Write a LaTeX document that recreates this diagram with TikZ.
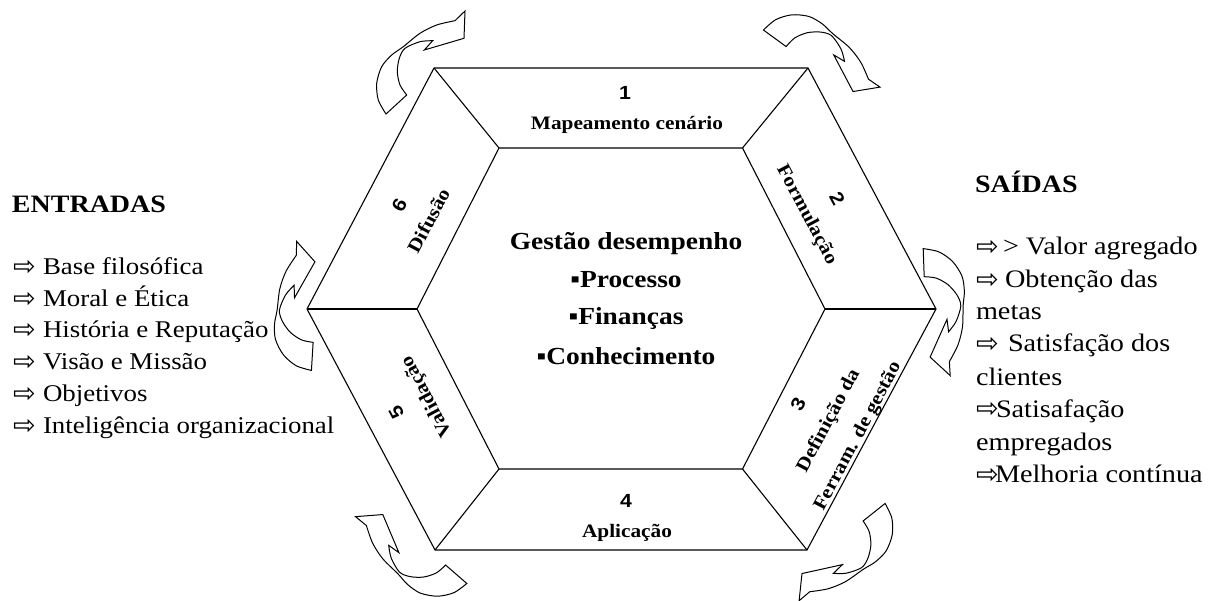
\documentclass[tikz,border=0pt]{standalone}
\usepackage{fontspec}
\setmainfont{Liberation Serif}[FakeStretch=1.12]
\newfontfamily\numfont{Liberation Sans}[FakeStretch=1.12]
\newfontfamily\symfont{DejaVu Sans}
\newcommand{\warr}[1]{\makebox[#1][l]{\raisebox{-1pt}{\symfont\fontsize{27}{27}\selectfont ⇨}}}
\newcommand{\cvarrow}[3]{%
  \draw[cvline, shift={(#1,#2)}, rotate=#3]
    (-48,46) -- plot[smooth] coordinates {(-48,46) (-55.7,32) (-57.3,15.3) (-52.3,-1.3) (-42.3,-13) (-30.7,-21.3) (-14,-34.7) (2.7,-43) (21,-47.3)}
    -- (31,-57) -- (30,-29.7) -- (-9.7,-18) -- (-1.3,-27.3)
    -- plot[smooth] coordinates {(-1.3,-27.3) (-14,-26.3) (-29,-19.7) (-34.7,-9.7) (-36.7,3.7) (-34,17) (-27.3,27)}
    -- cycle;}
\begin{document}
\begin{tikzpicture}[x=1pt,y=-1pt,
  hexline/.style={line width=1.1pt, line join=miter},
  cvline/.style={line width=1pt, line join=miter},
  txt/.style={inner sep=0pt, outer sep=0pt, anchor=base west},
  ctxt/.style={inner sep=0pt, outer sep=0pt, anchor=base},
  listfont/.style={font=\fontsize{24}{31.6}\selectfont},
  rlistfont/.style={font=\fontsize{25.2}{32.4}\selectfont},
  headfont/.style={font=\fontsize{25}{28}\selectfont\bfseries},
  cenfont/.style={font=\fontsize{24.5}{38}\selectfont\bfseries},
  labfont/.style={font=\fontsize{19}{22}\selectfont\bfseries},
  numfnt/.style={font=\fontsize{19}{22}\selectfont\numfont\bfseries},
  sidelab/.style={inner sep=0pt, align=center, font=\fontsize{19}{33}\selectfont\bfseries}
  ]
\useasboundingbox (0,0) rectangle (1215,601);
% hexagon vertices
\coordinate (v1) at (434,68);
\coordinate (v2) at (808,68);
\coordinate (v3) at (936,309);
\coordinate (v4) at (807,550);
\coordinate (v5) at (435,550);
\coordinate (v6) at (307,309);
\coordinate (i1) at (499,148);
\coordinate (i2) at (742.5,148);
\coordinate (i3) at (825,309);
\coordinate (i4) at (742.5,469);
\coordinate (i5) at (499,469);
\coordinate (i6) at (417,309);
\draw[hexline] (v1) -- (v2) -- (v3) -- (v4) -- (v5) -- (v6) -- cycle;
\draw[hexline] (i1) -- (i2) -- (i3) -- (i4) -- (i5) -- (i6) -- cycle;
\draw[hexline] (v1) -- (i1);
\draw[hexline] (v2) -- (i2);
\draw[hexline] (v3) -- (i3);
\draw[hexline] (v4) -- (i4);
\draw[hexline] (v5) -- (i5);
\draw[hexline] (v6) -- (i6);
% curved arrows
\cvarrow{434}{68}{0}
\cvarrow{818}{68}{-78.6}
\cvarrow{927}{315}{-130.5}
\cvarrow{834}{546}{-184}
\cvarrow{415.7}{541}{-263.5}
\cvarrow{314}{304}{-316}
% top and bottom sections
\node[ctxt, numfnt] (n1) at (625,100) {1};
\node[ctxt, labfont] (l1) at (627,130) {Mapeamento cenário};
\node[ctxt, numfnt] (n4) at (626,507) {4};
\node[ctxt, labfont] (l4) at (627,537) {Aplicação};
% side sections
\node[sidelab, rotate=62] (l6) at (414,213) {{\numfont 6}\\Difusão};
\node[sidelab, rotate=-62] (l2) at (821,207) {{\numfont 2}\\Formulação};
\node[sidelab, rotate=62] (l3) at (829,421) {{\numfont 3}\\Definição da\\Ferram. de gestão};
\node[sidelab, rotate=118] (l5) at (412.5,404) {{\numfont 5}\\Validação};
% centre
\node[ctxt, cenfont] (c1) at (626,250) {Gestão desempenho};
\node[ctxt, cenfont] (c2) at (626,288) {▪Processo};
\node[ctxt, cenfont] (c3) at (626,325) {▪Finanças};
\node[ctxt, cenfont] (c4) at (626,364) {▪Conhecimento};
% inputs
\node[txt, headfont] (ent) at (12,213) {ENTRADAS};
\node[txt, listfont] (e1) at (13,275) {\warr{30pt}Base filosófica};
\node[txt, listfont] (e2) at (13,306.6) {\warr{30pt}Moral e Ética};
\node[txt, listfont] (e3) at (13,338) {\warr{30pt}História e Reputação};
\node[txt, listfont] (e4) at (13,370) {\warr{30pt}Visão e Missão};
\node[txt, listfont] (e5) at (13,401.5) {\warr{30pt}Objetivos};
\node[txt, listfont] (e6) at (13,433) {\warr{30pt}Inteligência organizacional};
% outputs
\node[txt, headfont] (sai) at (975,193) {SAÍDAS};
\node[txt, rlistfont] (s1) at (976,255) {\warr{27pt}> Valor agregado};
\node[txt, rlistfont] (s2) at (976,287.5) {\warr{29pt}Obtenção das};
\node[txt, rlistfont] (s3) at (976,320) {metas};
\node[txt, rlistfont] (s4) at (976,352) {\warr{32pt}Satisfação dos};
\node[txt, rlistfont] (s5) at (976,385) {clientes};
\node[txt, rlistfont] (s6) at (976,417) {\warr{20pt}Satisafação};
\node[txt, rlistfont] (s7) at (976,450) {empregados};
\node[txt, rlistfont] (s8) at (976,482) {\warr{19pt}Melhoria contínua};
\end{tikzpicture}
\end{document}
